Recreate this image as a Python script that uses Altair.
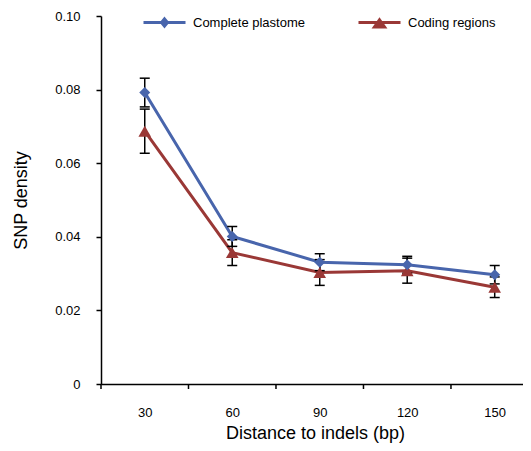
import altair as alt
import pandas as pd

distance = [30, 60, 90, 120, 150]
series_names = ["Complete plastome", "Coding regions"]
plastome = [0.0792, 0.0401, 0.0331, 0.0324, 0.0297]
plastome_err = [0.0039, 0.0027, 0.0023, 0.0023, 0.0025]
coding = [0.0687, 0.0357, 0.0303, 0.0308, 0.0263]
coding_err = [0.0060, 0.0035, 0.0035, 0.0034, 0.0028]
x_tick_edges = [15, 45, 75, 105, 135]
y_ticks = [0, 0.02, 0.04, 0.06, 0.08, 0.10]

colors = ["#4865AC", "#9A3836"]
FONT = "Liberation Sans"

def make_df(name, vals, errs):
    return pd.DataFrame({
        "distance": distance,
        "series": name,
        "value": vals,
        "lo": [v - e for v, e in zip(vals, errs)],
        "hi": [v + e for v, e in zip(vals, errs)],
    })

df_p = make_df(series_names[0], plastome, plastome_err)
df_c = make_df(series_names[1], coding, coding_err)
df_ticks = pd.DataFrame({"distance": x_tick_edges})

xscale = alt.Scale(domain=[15, 159.7], nice=False, zero=False)
yscale = alt.Scale(domain=[0, 0.10], nice=False)

xaxis = alt.Axis(values=distance, ticks=False, grid=False, labelPadding=22,
                 labelFont=FONT, labelFontSize=13, labelColor="black",
                 domainColor="black", domainWidth=1.5,
                 title="Distance to indels (bp)", titleFont=FONT, titleFontSize=18,
                 titleFontWeight="normal", titleColor="black",
                 titleX=214, titleY=49, titleBaseline="middle", titleAlign="center")
yaxis = alt.Axis(values=y_ticks, grid=False, tickSize=5, tickColor="black", tickWidth=1.5,
                 labelPadding=16, labelFont=FONT, labelFontSize=13, labelColor="black",
                 labelExpr="datum.value == 0 ? '0' : format(datum.value, '.2f')",
                 domainColor="black", domainWidth=1.5,
                 title="SNP density", titleFont=FONT, titleFontSize=18,
                 titleFontWeight="normal", titleColor="black",
                 titleX=-80, titleY=184, titleBaseline="middle", titleAlign="center",
                 titleAngle=-90)

X = alt.X("distance:Q", scale=xscale, axis=xaxis)

def Y(field):
    return alt.Y(field, type="quantitative", scale=yscale, axis=yaxis)

paths = [
    "M-1,0L1,0M0,-0.17L0.14,0L0,0.17L-0.14,0Z",
    "M-1,0L1,0M0,-0.13L0.24,0.21L-0.24,0.21Z",
]
legend_x = [41, 256]

def line_layer(df, i):
    leg = alt.Legend(title=None, orient="none", legendX=legend_x[i], legendY=-16,
                     direction="horizontal", symbolType=paths[i], symbolSize=1764,
                     symbolStrokeWidth=3, symbolStrokeColor=colors[i],
                     symbolFillColor=colors[i], symbolOpacity=1,
                     labelFont=FONT, labelFontSize=13, labelColor="black",
                     labelOffset=6, padding=0)
    return alt.Chart(df).mark_line(strokeWidth=3).encode(
        x=X, y=Y("value"),
        color=alt.Color("series:N", scale=alt.Scale(domain=[series_names[i]], range=[colors[i]]),
                        legend=leg),
    )

def err_layers(df):
    rule = alt.Chart(df).mark_rule(color="black", strokeWidth=1.5).encode(
        x=X, y=Y("lo"), y2="hi")
    caps = alt.Chart(df).transform_fold(["lo", "hi"], as_=["bound", "v"]).mark_tick(
        orient="horizontal", size=10, thickness=1.5, color="black", opacity=1).encode(
        x=X, y=Y("v"))
    return [rule, caps]

def point_layer(df, i, shape, size):
    return alt.Chart(df).mark_point(shape=shape, size=size, filled=True, opacity=1,
                                    color=colors[i]).encode(x=X, y=Y("value"))

ticks = alt.Chart(df_ticks).mark_rule(color="black", strokeWidth=1.5).encode(
    x=X, y=alt.value(368), y2=alt.value(373))

layers = [line_layer(df_c, 1), line_layer(df_p, 0)]
layers += err_layers(df_c) + err_layers(df_p)
layers += [point_layer(df_c, 1, "triangle-up", 160), point_layer(df_p, 0, "diamond", 120), ticks]

chart = alt.layer(*layers).resolve_scale(color="independent").properties(
    width=422, height=368,
    autosize=alt.AutoSizeParams(type="none"),
    padding={"left": 93, "top": 8, "right": 0, "bottom": 59},
    background="white",
).configure_view(stroke=None)

chart.save("out.html", embed_options={"renderer": "svg", "actions": False})
